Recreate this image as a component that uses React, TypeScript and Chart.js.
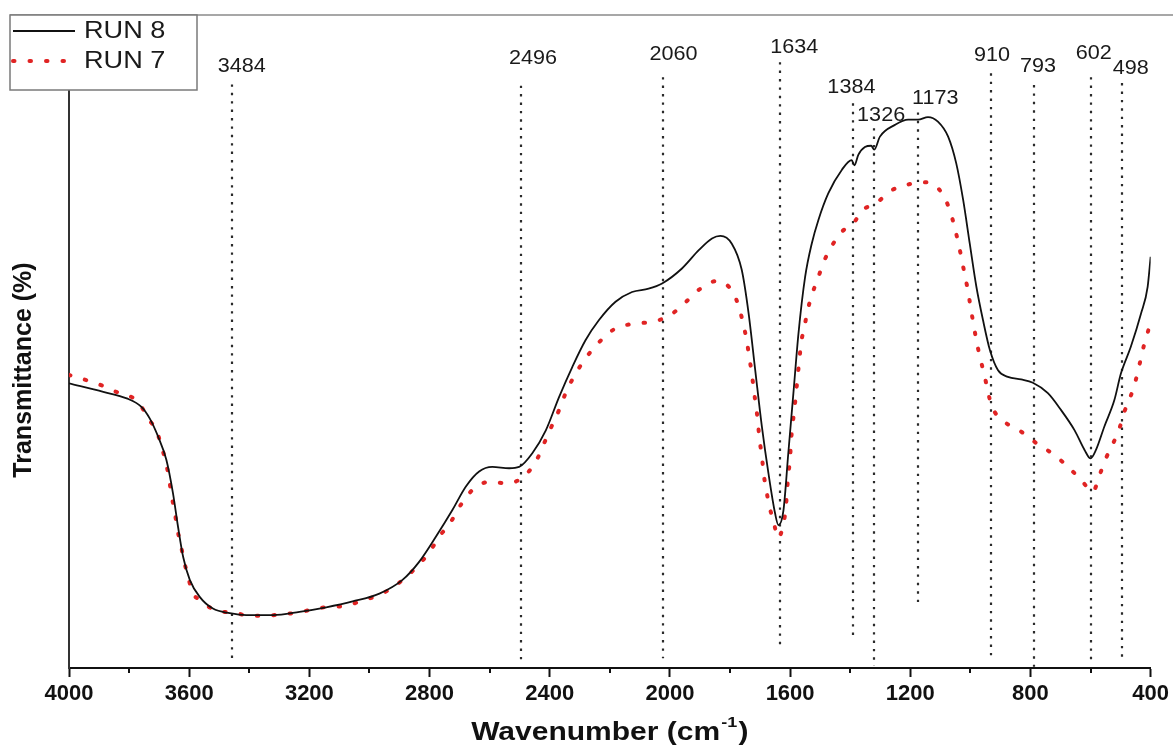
import React, { useEffect, useRef } from 'react';
import { Chart, registerables } from 'chart.js';

Chart.register(...registerables);

const FONT = "'Liberation Sans', Arial, Helvetica, sans-serif";

// ---- data ----
const seriesLabels = ['RUN 8', 'RUN 7'];

const run8Wavenumber = [
  4000, 3886, 3808, 3759, 3731, 3703, 3676, 3654, 3637, 3620, 3598, 3565, 3521, 3465, 3410, 3321,
  3233, 3144, 3056, 2967, 2890, 2834, 2779, 2724, 2679, 2635, 2591, 2535, 2502, 2458, 2413, 2369,
  2325, 2281, 2236, 2181, 2126, 2071, 2026, 1960, 1904, 1860, 1832, 1794, 1761, 1738, 1716, 1694,
  1672, 1650, 1639, 1622, 1606, 1589, 1572, 1550, 1528, 1506, 1473, 1428, 1395, 1386, 1373, 1351,
  1330, 1320, 1301, 1251, 1207, 1174, 1141, 1108, 1074, 1047, 1024, 1002, 980, 958, 935, 908,
  875, 831, 792, 742, 698, 653, 620, 600, 582, 554, 521, 499, 466, 432, 410, 400,
];
const run8Transmittance = [
  43.6, 42.3, 41.3, 40.0, 38.2, 35.4, 31.9, 26.8, 21.6, 17.0, 13.5, 10.9, 9.1, 8.4, 8.1, 8.1,
  8.6, 9.3, 10.2, 11.4, 13.5, 16.3, 20.1, 24.2, 27.8, 30.1, 30.8, 30.6, 30.8, 32.9, 36.4, 41.5,
  46.1, 50.2, 53.3, 56.1, 57.6, 58.1, 58.9, 61.2, 64.0, 65.8, 66.2, 65.0, 61.0, 54.3, 45.6, 37.0,
  29.8, 23.7, 21.9, 24.2, 32.9, 42.1, 51.3, 59.9, 65.0, 68.6, 72.7, 76.3, 77.8, 77.0, 78.6, 79.8,
  80.0, 79.4, 81.4, 83.2, 84.0, 84.0, 84.4, 83.7, 81.4, 77.3, 71.7, 65.0, 58.4, 53.3, 48.7, 45.6,
  44.6, 44.2, 43.7, 42.1, 39.5, 36.4, 33.4, 32.1, 33.4, 37.0, 41.0, 45.1, 49.2, 54.3, 58.4, 63.0,
];

const run7Wavenumber = [
  4000, 3936, 3886, 3842, 3808, 3764, 3737, 3709, 3692, 3678, 3667, 3659, 3648, 3640, 3629, 3617,
  3604, 3587, 3559, 3526, 3487, 3449, 3404, 3349, 3299, 3238, 3177, 3128, 3078, 3028, 2978, 2934,
  2884, 2845, 2801, 2768, 2729, 2696, 2652, 2602, 2541, 2480, 2441, 2416, 2394, 2369, 2347, 2320,
  2286, 2244, 2189, 2128, 2065, 2004, 1951, 1902, 1843, 1791, 1769, 1755, 1744, 1736, 1727, 1721,
  1713, 1707, 1702, 1694, 1689, 1680, 1670, 1655, 1639, 1622, 1614, 1610, 1606, 1600, 1597, 1592,
  1586, 1580, 1575, 1569, 1564, 1553, 1542, 1528, 1508, 1489, 1464, 1431, 1390, 1357, 1316, 1265,
  1204, 1141, 1094, 1069, 1054, 1041, 1030, 1019, 1008, 999, 990, 980, 969, 955, 930, 891,
  834, 779, 720, 670, 626, 593, 568, 549, 524, 504, 487, 466, 449, 435, 423, 406, 400,
];
const run7Transmittance = [
  44.9, 44.0, 43.2, 42.3, 41.9, 40.4, 38.2, 36.4, 33.9, 31.6, 29.0, 26.5, 23.9, 21.4, 19.1, 16.4,
  14.0, 11.4, 10.4, 9.1, 8.6, 8.5, 8.0, 8.0, 8.2, 8.5, 9.1, 9.4, 9.5, 10.3, 11.0, 12.0,
  13.7, 15.4, 17.7, 20.1, 22.4, 25.0, 27.5, 28.5, 28.3, 29.6, 32.1, 34.7, 37.0, 39.5, 42.1, 44.6,
  47.1, 49.5, 51.8, 52.7, 53.0, 53.9, 55.9, 58.0, 59.3, 57.6, 55.1, 52.5, 50.1, 47.6, 45.0, 42.6,
  40.0, 37.6, 35.0, 32.6, 30.1, 27.5, 25.0, 22.4, 19.9, 22.2, 24.6, 27.2, 29.6, 32.1, 34.7, 37.1,
  39.6, 42.1, 44.6, 47.2, 49.6, 52.1, 54.7, 57.1, 59.6, 62.1, 64.4, 66.7, 68.1, 70.2, 71.1, 73.1,
  74.1, 74.4, 72.7, 70.2, 67.8, 65.3, 62.9, 60.3, 57.8, 55.2, 52.8, 50.2, 47.8, 45.2, 40.3, 37.9,
  36.3, 34.4, 32.6, 30.6, 28.5, 27.0, 29.8, 32.1, 34.5, 36.7, 39.3, 41.7, 44.2, 46.9, 49.3, 52.0, 53.0,
];

const xMin = 400;
const xMax = 4000;
const xMajorStep = 400;
const xMinorTicks = [3800, 3400, 3000, 2600, 2200, 1800, 1400, 1000, 600];
const yMin = 0;
const yMax = 91.3;

// peak markers (dotted vertical lines) and their labels
const peakLabels = ['3484', '2496', '2060', '1634', '1384', '1326', '1173', '910', '793', '602', '498'];
const peakLinePosition = [3459, 2496, 2024, 1635, 1390, 1320, 1174, 931, 789, 599, 496];
const peakLineTop = [89.4, 89.2, 90.5, 92.8, 86.5, 82.7, 85.1, 91.1, 89.3, 90.5, 89.6];
const peakLineBottom = [1.2, 0.9, 1.5, 3.5, 4.7, 0.3, 9.2, 1.5, 0.2, 0.9, 1.5];
const peakLabelX = [3425, 2456, 1988, 1586, 1396, 1297, 1117, 928, 775, 589, 466];
const peakLabelY = [92.2, 93.3, 94.0, 95.1, 89.0, 84.7, 87.3, 93.9, 92.2, 94.2, 91.9];

const xTitleMain = 'Wavenumber (cm';
const xTitleSup = '-1';
const xTitleEnd = ')';
const yTitle = 'Transmittance (%)';

function stretchedText(ctx: CanvasRenderingContext2D, text: string, x: number, y: number, sx: number, align: CanvasTextAlign) {
  ctx.save();
  ctx.translate(x, y);
  ctx.scale(sx, 1);
  ctx.textAlign = align;
  ctx.fillText(text, 0, 0);
  ctx.restore();
}

const peakPlugin = {
  id: 'peaks',
  beforeDatasetsDraw(chart: any) {
    const { ctx } = chart;
    const xs = chart.scales.x;
    const ys = chart.scales.y;
    ctx.save();
    ctx.strokeStyle = '#2a2a2a';
    ctx.lineWidth = 2.2;
    ctx.setLineDash([2.4, 6]);
    peakLinePosition.forEach((p, i) => {
      const x = Math.round(xs.getPixelForValue(p));
      ctx.beginPath();
      ctx.moveTo(x, ys.getPixelForValue(peakLineTop[i]));
      ctx.lineTo(x, ys.getPixelForValue(peakLineBottom[i]));
      ctx.stroke();
    });
    ctx.setLineDash([]);
    ctx.fillStyle = '#1a1a1a';
    ctx.font = `20px ${FONT}`;
    ctx.textBaseline = 'middle';
    peakLabels.forEach((t, i) => {
      stretchedText(ctx, t, xs.getPixelForValue(peakLabelX[i]), ys.getPixelForValue(peakLabelY[i]), 1.08, 'center');
    });
    ctx.restore();
  },
};

const decorPlugin = {
  id: 'decor',
  afterDraw(chart: any) {
    const { ctx, chartArea } = chart;
    const xs = chart.scales.x;
    ctx.save();
    // minor ticks on the x axis
    ctx.strokeStyle = '#111';
    ctx.lineWidth = 2;
    xMinorTicks.forEach((v) => {
      const x = Math.round(xs.getPixelForValue(v));
      ctx.beginPath();
      ctx.moveTo(x, chartArea.bottom);
      ctx.lineTo(x, chartArea.bottom + 5);
      ctx.stroke();
    });

    // x axis title with superscript
    ctx.fillStyle = '#111';
    ctx.textBaseline = 'middle';
    const sx = 1.2;
    const mainFont = `bold 25px ${FONT}`;
    const supFont = `bold 15px ${FONT}`;
    ctx.font = mainFont;
    const w1 = ctx.measureText(xTitleMain).width;
    const w3 = ctx.measureText(xTitleEnd).width;
    ctx.font = supFont;
    const w2 = ctx.measureText(xTitleSup).width;
    const total = (w1 + w2 + w3 + 2) * sx;
    const cx = (chartArea.left + chartArea.right) / 2;
    const ty = 733;
    let x0 = cx - total / 2;
    ctx.font = mainFont;
    stretchedText(ctx, xTitleMain, x0, ty, sx, 'left');
    ctx.font = supFont;
    stretchedText(ctx, xTitleSup, x0 + (w1 + 1) * sx, ty - 10, sx, 'left');
    ctx.font = mainFont;
    stretchedText(ctx, xTitleEnd, x0 + (w1 + w2 + 2) * sx, ty, sx, 'left');

    // top frame line
    ctx.strokeStyle = '#8a8a8a';
    ctx.lineWidth = 1.5;
    ctx.beginPath();
    ctx.moveTo(10, 15);
    ctx.lineTo(chart.width, 15);
    ctx.stroke();

    // legend box
    const bx = 10, by = 15, bw = 187, bh = 75;
    ctx.fillStyle = '#fff';
    ctx.fillRect(bx, by, bw, bh);
    ctx.strokeStyle = '#7a7a7a';
    ctx.lineWidth = 1.5;
    ctx.strokeRect(bx, by, bw, bh);
    const rows = [31, 61];
    chart.data.datasets.forEach((ds: any, i: number) => {
      const y = rows[i];
      ctx.save();
      ctx.strokeStyle = ds.borderColor;
      ctx.lineWidth = i === 0 ? 1.8 : ds.borderWidth;
      ctx.lineCap = ds.borderCapStyle || 'butt';
      ctx.setLineDash(ds.borderDash || []);
      ctx.beginPath();
      ctx.moveTo(13, y);
      ctx.lineTo(75, y);
      ctx.stroke();
      ctx.restore();
      ctx.fillStyle = '#1a1a1a';
      ctx.font = `23px ${FONT}`;
      ctx.textBaseline = 'middle';
      stretchedText(ctx, ds.label, 84, y + 1, 1.18, 'left');
    });
    ctx.restore();
  },
};

export default function App() {
  const ref = useRef<HTMLCanvasElement | null>(null);

  useEffect(() => {
    if (!ref.current) return;
    const chart = new Chart(ref.current, {
      type: 'line',
      data: {
        datasets: [
          {
            label: seriesLabels[0],
            data: run8Wavenumber.map((x, i) => ({ x, y: run8Transmittance[i] })),
            borderColor: '#111111',
            borderWidth: 1.8,
            pointRadius: 0,
            cubicInterpolationMode: 'monotone',
            fill: false,
          },
          {
            label: seriesLabels[1],
            data: run7Wavenumber.map((x, i) => ({ x, y: run7Transmittance[i] })),
            borderColor: '#e02424',
            borderWidth: 4,
            borderDash: [1.5, 15],
            borderCapStyle: 'round',
            pointRadius: 0,
            cubicInterpolationMode: 'monotone',
            fill: false,
          },
        ] as any,
      },
      options: {
        animation: false,
        responsive: false,
        maintainAspectRatio: false,
        devicePixelRatio: 1,
        layout: { padding: { top: 72, right: 20, left: 0, bottom: 0 } },
        plugins: {
          legend: { display: false },
          tooltip: { enabled: false },
          title: { display: false },
        },
        scales: {
          x: {
            type: 'linear',
            reverse: true,
            min: xMin,
            max: xMax,
            ticks: {
              stepSize: xMajorStep,
              autoSkip: false,
              maxRotation: 0,
              padding: 4,
              color: '#111',
              font: { family: FONT, size: 22, weight: 'bold' },
              callback: (v: any) => String(v),
            },
            grid: {
              display: true,
              drawOnChartArea: false,
              drawTicks: true,
              tickLength: 9,
              tickWidth: 2,
              tickColor: '#111',
            },
            border: { display: true, color: '#111', width: 2 },
            afterFit: (s: any) => {
              s.height = 79;
            },
          },
          y: {
            type: 'linear',
            min: yMin,
            max: yMax,
            ticks: { display: false },
            grid: { display: false, drawTicks: false },
            border: { display: true, color: '#333', width: 2 },
            title: {
              display: true,
              text: yTitle,
              color: '#111',
              font: { family: FONT, size: 25, weight: 'bold' },
              padding: { top: 9, bottom: 0 },
            },
            afterFit: (s: any) => {
              s.width = 69;
            },
          },
        },
      } as any,
      plugins: [peakPlugin, decorPlugin],
    });
    return () => chart.destroy();
  }, []);

  return (
    <div style={{ position: 'fixed', left: 0, top: 0, width: 1173, height: 747, background: '#fff' }}>
      <canvas ref={ref} width={1173} height={747} />
    </div>
  );
}
